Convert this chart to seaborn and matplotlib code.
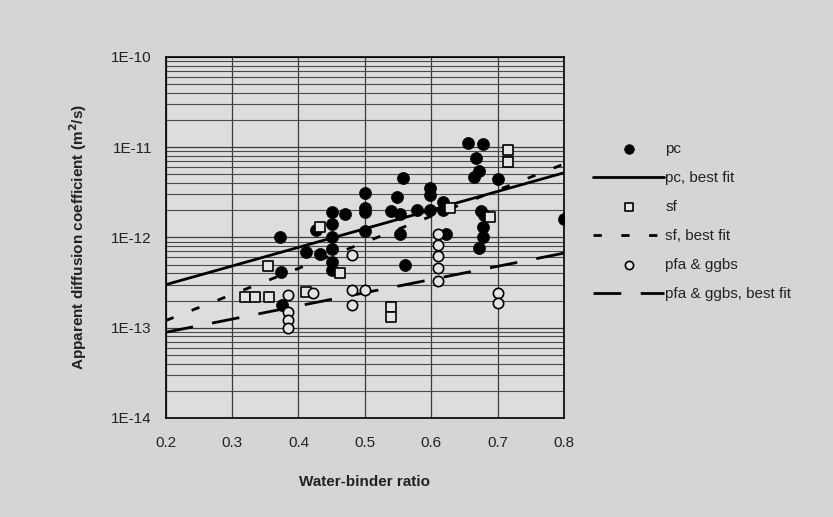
import matplotlib
matplotlib.use("Agg")
import matplotlib.pyplot as plt
import matplotlib.ticker as mticker
import numpy as np
import pandas as pd
import seaborn as sns

# ---------------- data ----------------
pc_x = [0.372, 0.374, 0.375, 0.412, 0.432, 0.426,
        0.45, 0.45, 0.45, 0.45, 0.45, 0.45,
        0.47, 0.50, 0.50, 0.50, 0.50,
        0.54, 0.548, 0.553, 0.553, 0.558, 0.56,
        0.578, 0.598, 0.598, 0.598, 0.618, 0.618, 0.623,
        0.656, 0.678, 0.668, 0.672, 0.665, 0.70,
        0.675, 0.68, 0.678, 0.678, 0.672, 0.80]
pc_y = [1.02e-12, 4.1e-13, 1.8e-13, 6.9e-13, 6.5e-13, 1.2e-12,
        1.9e-12, 1.4e-12, 1.0e-12, 7.4e-13, 5.4e-13, 4.4e-13,
        1.8e-12, 3.1e-12, 2.1e-12, 1.9e-12, 1.17e-12,
        1.95e-12, 2.8e-12, 1.8e-12, 1.1e-12, 4.6e-12, 5.0e-13,
        2.0e-12, 3.5e-12, 2.95e-12, 2.0e-12, 2.5e-12, 2.0e-12, 1.1e-12,
        1.1e-11, 1.07e-11, 7.6e-12, 5.4e-12, 4.7e-12, 4.4e-12,
        1.95e-12, 1.78e-12, 1.3e-12, 1.02e-12, 7.6e-13, 1.6e-12]

sf_x = [0.32, 0.335, 0.355, 0.354, 0.412, 0.432, 0.462,
        0.54, 0.54, 0.628, 0.689, 0.715, 0.715]
sf_y = [2.2e-13, 2.2e-13, 2.2e-13, 4.8e-13, 2.5e-13, 1.3e-12, 4.0e-13,
        1.7e-13, 1.3e-13, 2.1e-12, 1.7e-12, 9.3e-12, 6.9e-12]

pfa_x = [0.384, 0.384, 0.384, 0.384, 0.422,
         0.48, 0.48, 0.48, 0.50,
         0.61, 0.61, 0.61, 0.61, 0.61,
         0.70, 0.70]
pfa_y = [2.3e-13, 1.5e-13, 1.23e-13, 1.0e-13, 2.4e-13,
         6.4e-13, 2.6e-13, 1.8e-13, 2.6e-13,
         1.1e-12, 8.3e-13, 6.2e-13, 4.6e-13, 3.3e-13,
         2.4e-13, 1.9e-13]

fit_x = [0.2, 0.8]
pc_fit = [3.0e-13, 5.2e-12]
sf_fit = [1.2e-13, 6.5e-12]
pfa_fit = [8.9e-14, 6.7e-13]

x_ticks = [0.2, 0.3, 0.4, 0.5, 0.6, 0.7, 0.8]
y_ticks = [1e-14, 1e-13, 1e-12, 1e-11, 1e-10]
y_tick_labels = ["1E-14", "1E-13", "1E-12", "1E-11", "1E-10"]

# ---------------- style ----------------
sns.set_theme(style="white")
plt.rcParams["font.family"] = ["Liberation Sans", "DejaVu Sans"]

BG = "#d5d5d5"
AXBG = "#dddddd"

fig = plt.figure(figsize=(8.33, 5.17), dpi=100, facecolor=BG)
ax = fig.add_axes([0.199, 0.1915, 0.478, 0.6985], facecolor=AXBG)

df_pc = pd.DataFrame({"x": pc_x, "y": pc_y})
df_sf = pd.DataFrame({"x": sf_x, "y": sf_y})
df_pfa = pd.DataFrame({"x": pfa_x, "y": pfa_y})
fit_pc = pd.DataFrame({"x": fit_x, "y": pc_fit})
fit_sf = pd.DataFrame({"x": fit_x, "y": sf_fit})
fit_pfa = pd.DataFrame({"x": fit_x, "y": pfa_fit})

ax.set_yscale("log")
ax.set_xlim(0.2, 0.8)
ax.set_ylim(1e-14, 1e-10)

# grid
ax.yaxis.set_minor_locator(mticker.LogLocator(base=10, subs=np.arange(2, 10)))
ax.yaxis.set_minor_formatter(mticker.NullFormatter())
ax.grid(True, which="major", axis="both", color="#3a3a3a", linewidth=0.9)
ax.grid(True, which="minor", axis="y", color="#4a4a4a", linewidth=0.8)
ax.set_axisbelow(True)

sns.scatterplot(data=df_pc, x="x", y="y", ax=ax, marker="o", s=75,
                color="black", edgecolor="black", linewidth=0.5,
                label="pc", zorder=4)
sns.lineplot(data=fit_pc, x="x", y="y", ax=ax, color="black", linewidth=2.0,
             label="pc, best fit", zorder=3)
sns.scatterplot(data=df_sf, x="x", y="y", ax=ax, marker="s", s=55,
                facecolor="#e4e4e4", edgecolor="black", linewidth=1.2,
                label="sf", zorder=5)
sns.lineplot(data=fit_sf, x="x", y="y", ax=ax, color="black", linewidth=2.0,
             dashes=False, label="sf, best fit", zorder=3)
sns.scatterplot(data=df_pfa, x="x", y="y", ax=ax, marker="o", s=55,
                facecolor="#e4e4e4", edgecolor="black", linewidth=1.2,
                label="pfa & ggbs", zorder=5)
sns.lineplot(data=fit_pfa, x="x", y="y", ax=ax, color="black", linewidth=2.0,
             label="pfa & ggbs, best fit", zorder=3)

lines = ax.get_lines()
lines[1].set_dashes((3, 7))
lines[2].set_dashes((10, 7))

ax.set_xticks(x_ticks)
ax.set_xticklabels([f"{v:.1f}" for v in x_ticks])
ax.set_yticks(y_ticks)
ax.set_yticklabels(y_tick_labels)
ax.tick_params(axis="both", which="major", labelsize=11, length=4,
               color="black", direction="out", pad=6, labelcolor="#222222")
ax.tick_params(axis="x", pad=9)
ax.tick_params(axis="y", which="minor", length=0)

for sp in ax.spines.values():
    sp.set_color("black")
    sp.set_linewidth(1.2)

ax.set_xlabel("Water-binder ratio", fontsize=11, fontweight="bold",
              color="#222222", labelpad=18)
ax.set_ylabel("Apparent diffusion coefficient (m$\\mathbf{^2}$/s)", fontsize=11,
              fontweight="bold", color="#222222", labelpad=16)

handles, labels = ax.get_legend_handles_labels()
if ax.legend_:
    ax.legend_.remove()
leg = fig.legend(handles, labels, loc="upper left",
                 bbox_to_anchor=(0.705, 0.737), frameon=False,
                 fontsize=11, handlelength=4.6, labelspacing=0.98,
                 handletextpad=0.1, borderaxespad=0, markerscale=0.8)
for t in leg.get_texts():
    t.set_color("#222222")

fig.savefig("out.png", dpi=100, facecolor=BG)
